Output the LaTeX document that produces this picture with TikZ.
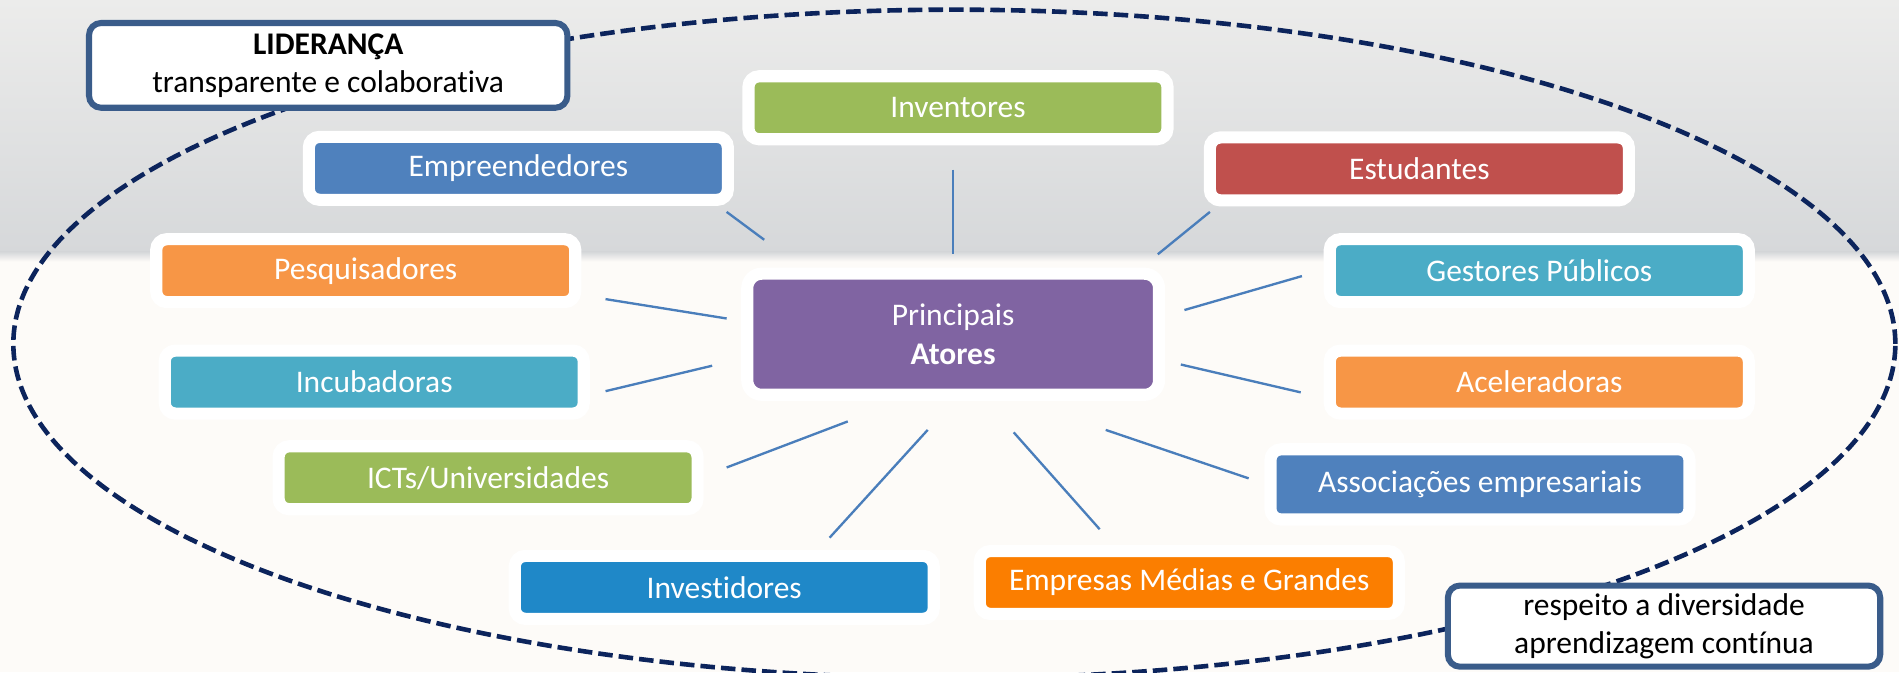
\documentclass[tikz,border=0pt]{standalone}
\usepackage{fontspec}
\setmainfont{Carlito}[Ligatures=NoCommon]
\definecolor{navy}{RGB}{12,36,92}
\definecolor{frameblue}{RGB}{58,92,138}
\definecolor{spokeblue}{RGB}{74,126,187}
\definecolor{cgreen}{RGB}{155,187,89}
\definecolor{cblue}{RGB}{79,129,189}
\definecolor{cred}{RGB}{192,80,77}
\definecolor{corange}{RGB}{247,150,70}
\definecolor{cteal}{RGB}{75,172,198}
\definecolor{cpurple}{RGB}{128,100,162}
\definecolor{cdeepblue}{RGB}{31,136,200}
\definecolor{cdeeporange}{RGB}{251,126,0}
\definecolor{bgtop}{RGB}{236,236,235}
\definecolor{bgmid}{RGB}{214,216,218}
\definecolor{bglow}{RGB}{253,251,248}
\tikzset{
  actor/.style={draw=white, line width=1mm, rounded corners=2.5pt, text=white,
    inner sep=0pt, minimum width=34.6mm, minimum height=5.2mm,
    font=\fontsize{7.4}{9}\selectfont},
  note/.style={draw=frameblue, line width=0.5mm, rounded corners=1mm, fill=white,
    inner sep=0pt, align=center, font=\fontsize{7.4}{9}\selectfont},
  spoke/.style={draw=spokeblue, line width=0.55pt}
}
\begin{document}
\begin{tikzpicture}[x=0.1mm, y=-0.1mm]
  \useasboundingbox (0,0) rectangle (1568,555);
  % background
  \shade[top color=bgtop, bottom color=bgmid] (0,0) rectangle (1568,208);
  \shade[top color=bgmid, bottom color=bglow] (0,208) rectangle (1568,216);
  \fill[bglow] (0,216) rectangle (1568,555);
  % dashed ring
  \draw[navy, line width=0.38mm, dash pattern=on 1.2mm off 0.5mm]
    (788,284) ellipse [x radius=77.7mm, y radius=27.6mm];

  \node[actor, fill=cpurple, minimum width=34mm, minimum height=10mm, rounded corners=1.2mm,
    align=center] (main) at (787,276) {Principais\\\textbf{Atores}};

  \node[actor, fill=cgreen] (inv) at (791,89) {Inventores};
  \node[actor, fill=cblue] (empr) at (428,139) {Empreendedores};
  \node[actor, fill=cred] (estu) at (1172,139.5) {Estudantes};
  \node[actor, fill=corange] (pesq) at (302,223.5) {Pesquisadores};
  \node[actor, fill=cteal] (gest) at (1271,223.5) {Gestores Públicos};
  \node[actor, fill=cteal] (incub) at (309,315.5) {Incubadoras};
  \node[actor, fill=corange] (acel) at (1271,315.5) {Aceleradoras};
  \node[actor, fill=cgreen] (icts) at (403,394.5) {ICTs/Universidades};
  \node[actor, fill=cblue, minimum height=5.8mm] (assoc) at (1222,400) {Associações empresariais};
  \node[actor, fill=cdeepblue] (invest) at (598,485) {Investidores};
  \node[actor, fill=cdeeporange] (empres) at (982,481) {Empresas Médias e Grandes};

  \node[note, minimum width=39.5mm, minimum height=7mm] (lider) at (271,54)
    {\textbf{LIDERANÇA}\\transparente e colaborativa};
  \node[note, minimum width=35.7mm, minimum height=6.7mm] (resp) at (1374,517)
    {respeito a diversidade\\aprendizagem contínua};

  % spokes
  \coordinate (empr-a) at (600,175);   \coordinate (empr-b) at (631,198);
  \coordinate (inv-a) at (787,140);    \coordinate (inv-b) at (787,210);
  \coordinate (estu-a) at (999,175);   \coordinate (estu-b) at (956,210);
  \coordinate (pesq-a) at (500,247);   \coordinate (pesq-b) at (600,263);
  \coordinate (gest-a) at (1075,228);  \coordinate (gest-b) at (978,256);
  \coordinate (incub-a) at (500,323);  \coordinate (incub-b) at (588,302);
  \coordinate (acel-a) at (1074,324);  \coordinate (acel-b) at (975,301);
  \coordinate (icts-a) at (600,386);   \coordinate (icts-b) at (700,348);
  \coordinate (assoc-a) at (1031,395); \coordinate (assoc-b) at (913,355);
  \coordinate (invest-a) at (685,444); \coordinate (invest-b) at (766,355);
  \coordinate (empres-a) at (908,437); \coordinate (empres-b) at (837,357);
  \draw[spoke] (empr-a) -- (empr-b);
  \draw[spoke] (inv-a) -- (inv-b);
  \draw[spoke] (estu-a) -- (estu-b);
  \draw[spoke] (pesq-a) -- (pesq-b);
  \draw[spoke] (gest-a) -- (gest-b);
  \draw[spoke] (incub-a) -- (incub-b);
  \draw[spoke] (acel-a) -- (acel-b);
  \draw[spoke] (icts-a) -- (icts-b);
  \draw[spoke] (assoc-a) -- (assoc-b);
  \draw[spoke] (invest-a) -- (invest-b);
  \draw[spoke] (empres-a) -- (empres-b);
\end{tikzpicture}
\end{document}
